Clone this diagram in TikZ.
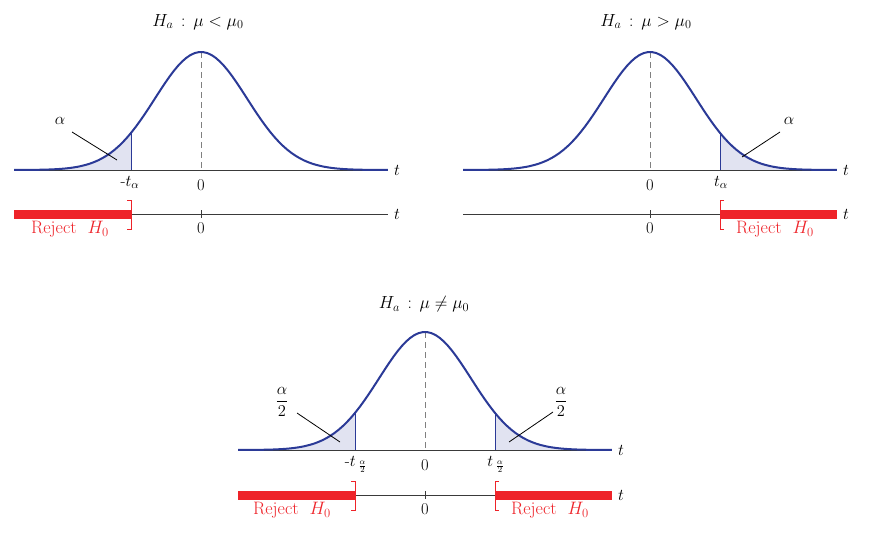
\RequirePackage{fix-cm}
\documentclass[tikz,border=0pt]{standalone}
\usepackage{amsmath}
\usepackage{tikz}
\usetikzlibrary{positioning}
\usepackage{xcolor}
\definecolor{curveblue}{HTML}{2B3A97}
\definecolor{tailfill}{HTML}{E1E3F1}
\definecolor{rejectred}{HTML}{EE2329}
\definecolor{axisgrey}{HTML}{3A3A3A}
\definecolor{dashgrey}{HTML}{808080}

\begin{document}
\begin{tikzpicture}[x=1pt,y=-1pt,
  axisline/.style={axisgrey, line width=1pt},
  bell/.style={curveblue, line width=2pt, samples=90},
  tail/.style={fill=tailfill, draw=none, samples=40},
  cutline/.style={curveblue, line width=0.9pt},
  midline/.style={dashgrey, line width=0.9pt, dash pattern=on 6pt off 4pt},
  leader/.style={black, line width=0.8pt},
  lbl/.style={font=\fontsize{16.5}{19}\selectfont, inner sep=1pt},
  ttl/.style={font=\fontsize{17.5}{20}\selectfont, inner sep=1pt},
  redlbl/.style={font=\fontsize{18}{21}\selectfont, text=rejectred, inner sep=1pt},
  rejectbar/.style={rejectred, line width=9pt},
  bracket/.style={rejectred, line width=1pt}]
\useasboundingbox (0,0) rectangle (890,538);

% shaded tails first
\fill[tail] plot[domain=-4.065:-1.522] ({201+46*\x},{170-118*exp(-\x*\x/2)}) -- (131,170) -- cycle;
\fill[tail] plot[domain=1.522:4.065] ({650+46*\x},{170-118*exp(-\x*\x/2)}) -- (720,170) -- cycle;
\fill[tail] plot[domain=-4.065:-1.522] ({425+46*\x},{450-118*exp(-\x*\x/2)}) -- (355,450) -- cycle;
\fill[tail] plot[domain=1.522:4.065] ({425+46*\x},{450-118*exp(-\x*\x/2)}) -- (495,450) -- cycle;

% axes, bells, reject lines
\foreach \cx/\ay/\ry/\nm in {201/170/214/L, 650/170/214/R, 425/450/495/B}{
  \coordinate (a0\nm) at ({\cx-187},\ay);
  \coordinate (a1\nm) at ({\cx+187},\ay);
  \coordinate (r0\nm) at ({\cx-187},\ry);
  \coordinate (r1\nm) at ({\cx+187},\ry);
  \coordinate (top\nm) at (\cx,{\ay-118});
  \coordinate (mid\nm) at (\cx,\ay);
  \draw[axisline] (a0\nm) -- (a1\nm);
  \draw[axisline] (r0\nm) -- (r1\nm);
  \draw[midline] (top\nm) -- (mid\nm);
  \draw[axisline] (\cx,{\ry-4}) -- (\cx,{\ry+4});
  \node[lbl, right=5pt of a1\nm] (ta\nm) {$t$};
  \node[lbl, right=5pt of r1\nm] (tr\nm) {$t$};
  \node[lbl] (za\nm) at (\cx,{\ay+15}) {0};
  \node[lbl] (zr\nm) at (\cx,{\ry+14}) {0};
}

% cut lines at the critical values
\draw[cutline] (131,170) -- (131,{170-118*exp(-1.522*1.522/2)});
\draw[cutline] (720,170) -- (720,{170-118*exp(-1.522*1.522/2)});
\draw[cutline] (355,450) -- (355,{450-118*exp(-1.522*1.522/2)});
\draw[cutline] (495,450) -- (495,{450-118*exp(-1.522*1.522/2)});

\draw[bell] plot[domain=-4.065:4.065] ({201+46*\x},{170-118*exp(-\x*\x/2)});
\draw[bell] plot[domain=-4.065:4.065] ({650+46*\x},{170-118*exp(-\x*\x/2)});
\draw[bell] plot[domain=-4.065:4.065] ({425+46*\x},{450-118*exp(-\x*\x/2)});

% titles
\node[ttl] (ttlL) at (198,22) {$H_a\,:\,\mu < \mu_0$};
\node[ttl] (ttlR) at (646,22) {$H_a\,:\,\mu > \mu_0$};
\node[ttl] (ttlB) at (424,304) {$H_a\,:\,\mu \neq \mu_0$};

% critical values
\node[lbl, anchor=north] (cvL) at (130,175) {-$t_{\alpha}$};
\node[lbl, anchor=north] (cvR) at (721,175) {$t_{\alpha}$};
\node[lbl, anchor=north] (cvB1) at (356,455) {-$t\,_{\frac{\alpha}{2}}$};
\node[lbl, anchor=north] (cvB2) at (496,455) {$t\,_{\frac{\alpha}{2}}$};

% tail labels and leaders
\node[lbl] (alL) at (60,121) {$\alpha$};
\node[lbl] (alR) at (789,121) {$\alpha$};
\node[lbl] (alB1) at (282,402) {$\dfrac{\alpha}{2}$};
\node[lbl] (alB2) at (561,402) {$\dfrac{\alpha}{2}$};
\coordinate (inL) at (117,160);
\coordinate (inR) at (742,157);
\coordinate (inB1) at (340,442);
\coordinate (inB2) at (509,442);
\draw[leader] (72,132) -- (inL);
\draw[leader] (780,132) -- (inR);
\draw[leader] (297,413) -- (inB1);
\draw[leader] (553,412) -- (inB2);

% rejection regions
\draw[rejectbar] (r0L) -- (131,214);
\draw[rejectbar] (720,214) -- (r1R);
\draw[rejectbar] (r0B) -- (355,495);
\draw[rejectbar] (495,495) -- (r1B);
\draw[bracket] (127,200) -- (131,200) -- (131,229) -- (127,229);
\draw[bracket] (724,200) -- (720,200) -- (720,229) -- (724,229);
\draw[bracket] (351,481) -- (355,481) -- (355,510) -- (351,510);
\draw[bracket] (499,481) -- (495,481) -- (495,510) -- (499,510);
\node[redlbl] (rjL) at (70,229) {Reject\ \ $H_0$};
\node[redlbl] (rjR) at (775,229) {Reject\ \ $H_0$};
\node[redlbl] (rjB1) at (292,510) {Reject\ \ $H_0$};
\node[redlbl] (rjB2) at (550,510) {Reject\ \ $H_0$};
\end{tikzpicture}
\end{document}
